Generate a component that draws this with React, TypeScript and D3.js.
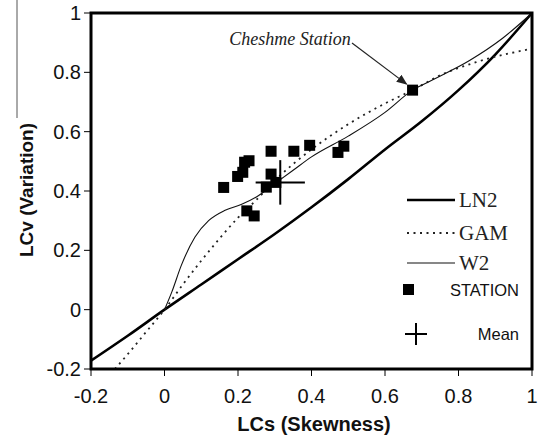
import React from 'react';
import * as d3 from 'd3';

// L-moment ratio diagram: LCs vs LCv
const xTicks = [-0.2, 0, 0.2, 0.4, 0.6, 0.8, 1];
const yTicks = [-0.2, 0, 0.2, 0.4, 0.6, 0.8, 1];

const ln2Lcs = [-0.2, -0.1, 0, 0.1, 0.2, 0.3, 0.4, 0.5, 0.6, 0.7, 0.8, 0.9, 1];
const ln2Lcv = [-0.172, -0.088, 0, 0.085, 0.17, 0.255, 0.345, 0.44, 0.54, 0.635, 0.74, 0.86, 1];

const gamLcs = [-0.135, -0.1, -0.05, 0, 0.05, 0.1, 0.15, 0.2, 0.25, 0.3, 0.4, 0.5, 0.6, 0.675, 0.75, 0.85, 1];
const gamLcv = [-0.2, -0.15, -0.075, 0, 0.085, 0.165, 0.24, 0.31, 0.37, 0.435, 0.54, 0.625, 0.695, 0.74, 0.79, 0.835, 0.88];

const w2Lcs = [0, 0.02, 0.046, 0.083, 0.12, 0.165, 0.21, 0.25, 0.3, 0.35, 0.4, 0.5, 0.6, 0.675, 0.73, 0.83, 0.92, 1];
const w2Lcv = [0, 0.06, 0.15, 0.245, 0.3, 0.335, 0.355, 0.38, 0.425, 0.47, 0.515, 0.585, 0.665, 0.74, 0.775, 0.84, 0.915, 1];

const stationLcs = [0.161, 0.199, 0.213, 0.218, 0.23, 0.29, 0.352, 0.395, 0.472, 0.488, 0.29, 0.277, 0.303, 0.224, 0.244, 0.675];
const stationLcv = [0.412, 0.449, 0.463, 0.497, 0.502, 0.534, 0.534, 0.554, 0.53, 0.551, 0.457, 0.413, 0.429, 0.333, 0.316, 0.74];

const meanLcs = 0.315;
const meanLcv = 0.429;

export default function App() {
  const W = 543, H = 439;
  const m = { left: 91, right: 532, top: 13, bottom: 369 };
  const x = d3.scaleLinear().domain([-0.2, 1]).range([m.left, m.right]);
  const y = d3.scaleLinear().domain([-0.2, 1]).range([m.bottom, m.top]);

  const line = d3.line<[number, number]>()
    .x(d => x(d[0]))
    .y(d => y(d[1]))
    .curve(d3.curveMonotoneX);

  const ln2 = line(ln2Lcs.map((v, i) => [v, ln2Lcv[i]] as [number, number])) || '';
  const gam = line(gamLcs.map((v, i) => [v, gamLcv[i]] as [number, number])) || '';
  const w2 = line(w2Lcs.map((v, i) => [v, w2Lcv[i]] as [number, number])) || '';

  const sq = 11;
  const cx = x(meanLcs), cy = y(meanLcv);
  const armX = x(meanLcs + 0.067) - cx;
  const armY = cy - y(meanLcv + 0.075);

  const arial = 'Arial, "Liberation Sans", sans-serif';
  const times = '"Times New Roman", "Liberation Serif", serif';

  const lastX = x(stationLcs[stationLcs.length - 1]);
  const lastY = y(stationLcv[stationLcv.length - 1]);

  return (
    <svg width={W} height={H} style={{ position: 'absolute', left: 0, top: 0, background: '#fff' }}>
      <defs>
        <marker id="arr" viewBox="0 0 10 10" refX="9" refY="5" markerWidth="9" markerHeight="9" orient="auto">
          <path d="M0,1 L10,5 L0,9 z" fill="#222" />
        </marker>
      </defs>
      <rect width={W} height={H} fill="#fff" />
      <line x1={17} x2={17} y1={0} y2={118} stroke="#555" strokeWidth={1} />

      {/* curves */}
      <path d={ln2} fill="none" stroke="#000" strokeWidth={2.6} />
      <path d={gam} fill="none" stroke="#222" strokeWidth={1.8} strokeDasharray="2,4.5" />
      <path d={w2} fill="none" stroke="#111" strokeWidth={1.1} />

      {/* stations */}
      {stationLcs.map((v, i) => (
        <rect key={i} x={x(v) - sq / 2} y={y(stationLcv[i]) - sq / 2} width={sq} height={sq} fill="#000" />
      ))}

      {/* mean */}
      <line x1={cx - armX} x2={cx + armX} y1={cy} y2={cy} stroke="#000" strokeWidth={2} />
      <line x1={cx} x2={cx} y1={cy - armY} y2={cy + armY} stroke="#000" strokeWidth={2} />

      {/* annotation */}
      <text x={290} y={45} textAnchor="middle" fontFamily={times} fontStyle="italic" fontSize={18} fill="#222">Cheshme Station</text>
      <line x1={352} y1={43} x2={lastX - 6} y2={lastY - 6} stroke="#222" strokeWidth={1.2} markerEnd="url(#arr)" />

      {/* frame */}
      <rect x={m.left} y={m.top} width={m.right - m.left} height={m.bottom - m.top} fill="none" stroke="#000" strokeWidth={3} />

      {/* ticks */}
      {yTicks.map(t => (
        <g key={'y' + t}>
          <line x1={m.left - 7} x2={m.left} y1={y(t)} y2={y(t)} stroke="#000" strokeWidth={1} />
          <text x={81} y={y(t) + 7} textAnchor="end" fontFamily={arial} fontSize={20} fill="#111">{t}</text>
        </g>
      ))}
      {xTicks.map(t => (
        <g key={'x' + t}>
          <line x1={x(t)} x2={x(t)} y1={m.bottom} y2={m.bottom + 7} stroke="#000" strokeWidth={1} />
          <text x={x(t)} y={403} textAnchor="middle" fontFamily={arial} fontSize={20} fill="#111">{t}</text>
        </g>
      ))}

      <text x={314} y={431} textAnchor="middle" fontFamily={arial} fontWeight="bold" fontSize={20} fill="#111">LCs (Skewness)</text>
      <text transform="translate(33,190) rotate(-90)" textAnchor="middle" fontFamily={arial} fontWeight="bold" fontSize={19} fill="#111">LCv (Variation)</text>

      {/* legend */}
      <line x1={407} x2={455} y1={200} y2={200} stroke="#000" strokeWidth={2.6} />
      <text x={459} y={207} fontFamily={times} fontSize={21} fill="#222">LN2</text>
      <line x1={407} x2={455} y1={233} y2={233} stroke="#222" strokeWidth={1.8} strokeDasharray="2,4.5" />
      <text x={459} y={240} fontFamily={times} fontSize={21} fill="#222">GAM</text>
      <line x1={407} x2={455} y1={263} y2={263} stroke="#111" strokeWidth={1.1} />
      <text x={459} y={270} fontFamily={times} fontSize={21} fill="#222">W2</text>
      <rect x={403} y={284} width={11} height={11} fill="#000" />
      <text x={519} y={296} textAnchor="end" fontFamily={arial} fontSize={16.5} fill="#111">STATION</text>
      <line x1={405} x2={427} y1={334} y2={334} stroke="#000" strokeWidth={2} />
      <line x1={416} x2={416} y1={323} y2={345} stroke="#000" strokeWidth={2} />
      <text x={519} y={340} textAnchor="end" fontFamily={arial} fontSize={16.5} fill="#111">Mean</text>
    </svg>
  );
}
